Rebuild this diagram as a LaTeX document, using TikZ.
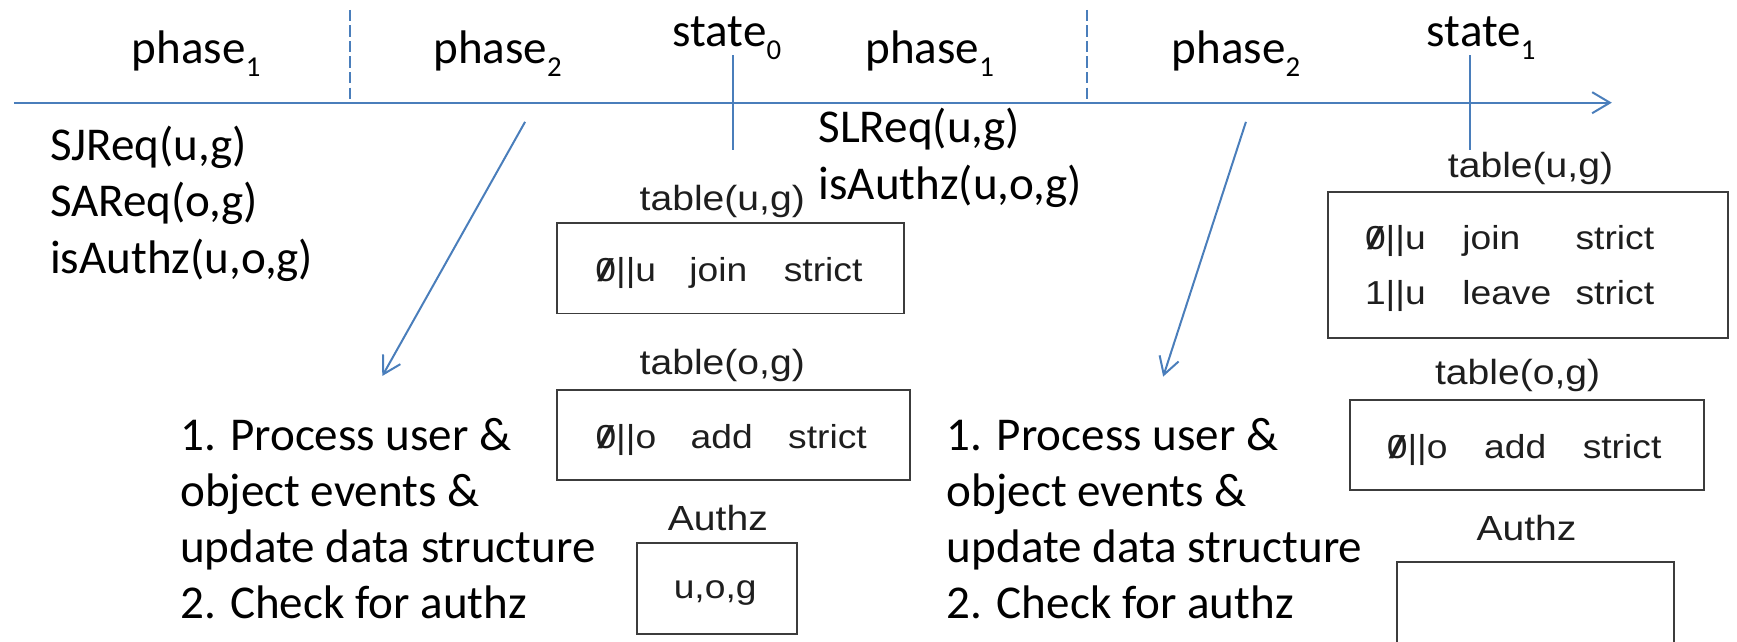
\documentclass[tikz,border=0pt]{standalone}
\usepackage{fontspec}
\usepackage{graphicx}
\setmainfont{Carlito}
\newfontfamily\tablefont{Liberation Sans}[FakeStretch=1.12]
\usetikzlibrary{arrows.meta}
\definecolor{axisblue}{HTML}{4A7EBB}
\definecolor{framegray}{HTML}{3C3C3C}
\definecolor{tabink}{HTML}{1E1E1E}
% lowered index digit after a phase/state name
\newcommand\lowidx[1]{\raisebox{-11.5pt}{\fontsize{26}{26}\selectfont #1}}
% zero with a diagonal stroke
\newcommand\zeroslash{\ooalign{0\cr\hidewidth\scalebox{1.6}[0.95]{/}\hidewidth\cr}}

\begin{document}
\begin{tikzpicture}[x=1pt, y=-1pt,
  maintext/.style={font=\fontsize{42.5}{51}\selectfont, inner sep=0pt, text=black},
  phaselbl/.style={maintext, anchor=base west},
  % multi-line blocks are placed by the baseline of their last line
  listtext/.style={maintext, anchor=base west, align=left},
  steptext/.style={listtext, font=\fontsize{42.5}{50.4}\selectfont},
  axis/.style={draw=axisblue, line width=1.8pt},
  divider/.style={axis, dash pattern=on 10pt off 4pt},
  flow/.style={axis, -{Straight Barb[length=15.5pt,width=18pt]}},
  tabbox/.style={draw=framegray, line width=1.8pt, inner sep=0pt},
  tablbl/.style={font=\tablefont\fontsize{31.5}{36}\selectfont, inner sep=0pt, text=tabink},
  tabcell/.style={font=\tablefont\fontsize{30}{49.6}\selectfont, inner sep=0pt, text=tabink},
]
\useasboundingbox (0,0) rectangle (1568,579.5);
\clip (0,0) rectangle (1568,579.5);

% time axis
\coordinate (tl0) at (12.6,92.7);
\coordinate (tl1) at (1455,92.7);
\draw[axis, -{Straight Barb[length=16pt,width=19pt]}] (tl0) -- (tl1);

% phase dividers
\coordinate (d1top) at (316,9);
\coordinate (d1bot) at (316,92.7);
\coordinate (d2top) at (980.8,9);
\coordinate (d2bot) at (980.8,92.7);
\draw[divider] (d1top) -- (d1bot);
\draw[divider] (d2top) -- (d2bot);

% state ticks
\coordinate (s0top) at (662,49.7);
\coordinate (s0bot) at (662,135.5);
\coordinate (s1top) at (1327,49.7);
\coordinate (s1bot) at (1327,135.5);
\draw[axis] (s0top) -- (s0bot);
\draw[axis] (s1top) -- (s1bot);

% labels over the axis
\node[phaselbl] (ph1a) at (118.9,57.2) {phase\lowidx{1}};
\node[phaselbl] (ph2a) at (391,57.2) {phase\lowidx{2}};
\node[phaselbl] (st0) at (607,42.1) {state\lowidx{0}};
\node[phaselbl] (ph1b) at (781,57.2) {phase\lowidx{1}};
\node[phaselbl] (ph2b) at (1057.6,57.2) {phase\lowidx{2}};
\node[phaselbl] (st1) at (1287.9,42.1) {state\lowidx{1}};

% requests arriving in each phase 1
\node[listtext] (evA) at (45,246.7) {SJReq(u,g)\\SAReq(o,g)\\isAuthz(u,o,g)};
\node[listtext] (evB) at (738.7,180) {SLReq(u,g)\\isAuthz(u,o,g)};

% work done in each phase 2
\node[steptext] (stepsA) at (162.5,558) {1. Process user \&\\object events \&\\update data structure\\2. Check for authz};
\node[steptext] (stepsB) at (854.6,558) {1. Process user \&\\object events \&\\update data structure\\2. Check for authz};

\coordinate (a1s) at (474,110);
\coordinate (a1e) at (345.1,339.4);
\coordinate (a2s) at (1124.7,110);
\coordinate (a2e) at (1050,340);
\draw[flow] (a1s) -- (a1e);
\draw[flow] (a2s) -- (a2e);

% data structures at state 0
\node[tablbl] (ugAlbl) at (652,182) {table(u,g)};
\node[tabbox, minimum width=313.5pt, minimum height=82pt] (ugA) at (659.2,242) {};
\node[tabcell] (ugArow) at (658,244) {\begin{tabular}{@{}l@{\hspace{30pt}}l@{\hspace{33pt}}l@{}}\zeroslash||u & join & strict\end{tabular}};

\node[tablbl] (ogAlbl) at (652,329.5) {table(o,g)};
\node[tabbox, minimum width=319pt, minimum height=81pt] (ogA) at (662,392.5) {};
\node[tabcell] (ogArow) at (660,394.5) {\begin{tabular}{@{}l@{\hspace{31pt}}l@{\hspace{32pt}}l@{}}\zeroslash||o & add & strict\end{tabular}};

\node[tablbl] (azAlbl) at (648,468) {Authz};
\node[tabbox, minimum width=144.6pt, minimum height=82pt] (azA) at (647.3,531) {};
\node[tabcell] (azArow) at (645.6,535.5) {u,o,g};

% data structures at state 1
\node[tablbl] (ugBlbl) at (1381.6,152) {table(u,g)};
\node[tabbox, minimum width=361pt, minimum height=132pt] (ugB) at (1379.5,239) {};
\node[tabcell, anchor=west] (ugBrows) at (1232,240.5) {\begin{tabular}{@{}l@{\hspace{33pt}}l@{\hspace{22pt}}l@{}}\zeroslash||u & join & strict\\1||u & leave & strict\end{tabular}};

\node[tablbl] (ogBlbl) at (1370,338.5) {table(o,g)};
\node[tabbox, minimum width=319.4pt, minimum height=81pt] (ogB) at (1378.3,401.5) {};
\node[tabcell, anchor=west] (ogBrow) at (1251.7,403.7) {\begin{tabular}{@{}l@{\hspace{33pt}}l@{\hspace{33pt}}l@{}}\zeroslash||o & add & strict\end{tabular}};

\node[tablbl] (azBlbl) at (1378,477) {Authz};
\node[tabbox, minimum width=250.3pt, minimum height=113pt] (azB) at (1385.85,563.5) {};
\end{tikzpicture}
\end{document}
